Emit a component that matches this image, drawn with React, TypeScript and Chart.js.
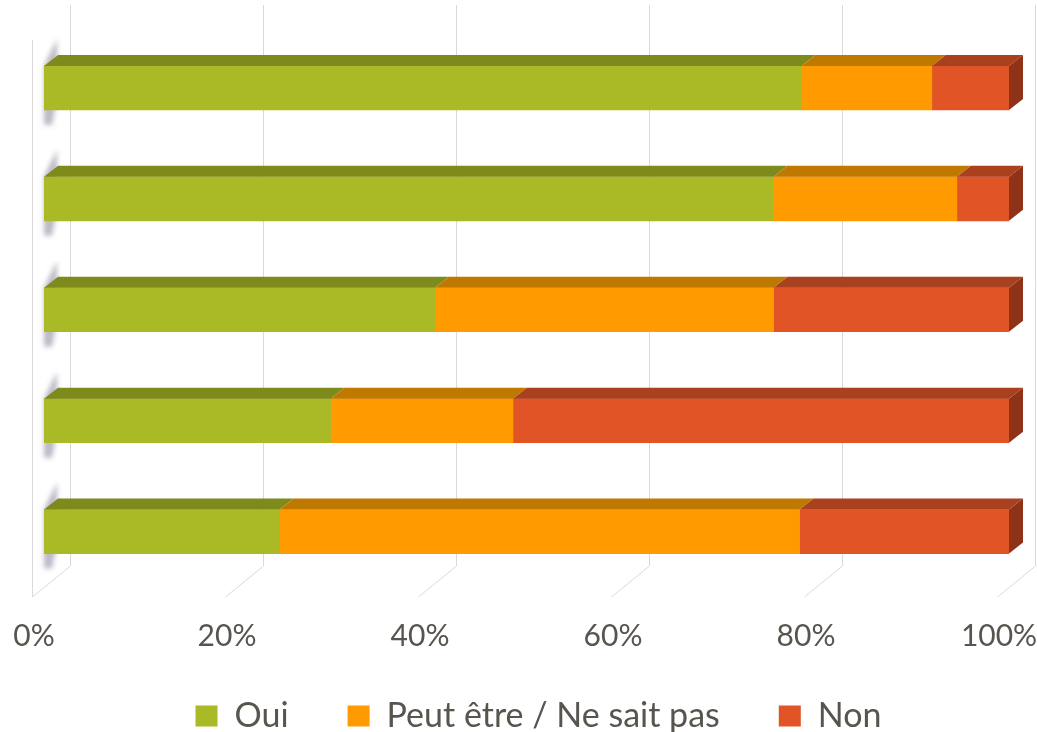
import React, { useEffect, useRef } from "react";
import { Chart, registerables } from "chart.js";

Chart.register(...registerables);

const categories = ["Question 1", "Question 2", "Question 3", "Question 4", "Question 5"];
const seriesNames = ["Oui", "Peut être / Ne sait pas", "Non"];
const oui = [78.5, 75.6, 40.5, 29.7, 24.4];
const peutEtre = [13.5, 19.0, 35.1, 18.9, 53.9];
const non = [8.0, 5.4, 24.4, 51.4, 21.7];
const xTicks = [0, 20, 40, 60, 80, 100];

const FRONT = ["#AAB926", "#FF9A00", "#E05426"];
const TOPC = ["#7F8A1D", "#C07900", "#A9411E"];
const SIDE = "#8F3318";
const DX = 14;
const DY = 11;
const FONT = "Lato";
const TEXT = "#58554F";
const LEGEND_PAD = 59;

const threeD = {
  id: "threeD",
  beforeDatasetsDraw(chart: any) {
    const ctx = chart.ctx;
    const xs = chart.scales.x;
    const { bottom } = chart.chartArea;
    const backY = bottom - 21;
    const frontY = bottom + 10;
    ctx.save();
    ctx.strokeStyle = "#D9D9D9";
    ctx.lineWidth = 1;
    xTicks.forEach((v) => {
      const p = xs.getPixelForValue(v);
      const bx = Math.round(p + 26) + 0.5;
      const fx = Math.round(p - 12) + 0.5;
      ctx.beginPath();
      ctx.moveTo(bx, 5);
      ctx.lineTo(bx, backY);
      ctx.lineTo(fx, frontY);
      ctx.stroke();
    });
    const p0 = Math.round(xs.getPixelForValue(0) - 12) + 0.5;
    ctx.beginPath();
    ctx.moveTo(p0, 40);
    ctx.lineTo(p0, frontY);
    ctx.stroke();
    // soft shadow of the bar ends on the wall
    const meta = chart.getDatasetMeta(0);
    meta.data.forEach((el: any) => {
      const { y, base, height } = el.getProps(["y", "base", "height"], true);
      const t = y - height / 2;
      const b = y + height / 2;
      ctx.save();
      ctx.filter = "blur(2.5px)";
      ctx.fillStyle = "rgba(120,115,140,0.5)";
      ctx.beginPath();
      ctx.moveTo(base, t);
      ctx.lineTo(base + DX - 1, t - DY - 16);
      ctx.lineTo(base + DX - 1, b - DY);
      ctx.lineTo(base + 8, b + 15);
      ctx.lineTo(base, b + 15);
      ctx.closePath();
      ctx.fill();
      ctx.restore();
    });
    ctx.restore();
  },
  afterDatasetsDraw(chart: any) {
    const ctx = chart.ctx;
    ctx.save();
    const n = chart.data.datasets.length;
    for (let i = 0; i < n; i++) {
      const meta = chart.getDatasetMeta(i);
      meta.data.forEach((el: any) => {
        const { x, y, base, height } = el.getProps(["x", "y", "base", "height"], true);
        const t = y - height / 2;
        ctx.fillStyle = TOPC[i];
        ctx.beginPath();
        ctx.moveTo(base, t);
        ctx.lineTo(x, t);
        ctx.lineTo(x + DX, t - DY);
        ctx.lineTo(base + DX, t - DY);
        ctx.closePath();
        ctx.fill();
      });
    }
    const last = chart.getDatasetMeta(n - 1);
    last.data.forEach((el: any) => {
      const { x, y, height } = el.getProps(["x", "y", "height"], true);
      const t = y - height / 2;
      const b = y + height / 2;
      ctx.fillStyle = SIDE;
      ctx.beginPath();
      ctx.moveTo(x, t);
      ctx.lineTo(x + DX, t - DY);
      ctx.lineTo(x + DX, b - DY);
      ctx.lineTo(x, b);
      ctx.closePath();
      ctx.fill();
    });
    ctx.restore();
  },
};

export default function App() {
  const ref = useRef<HTMLCanvasElement | null>(null);
  useEffect(() => {
    if (!ref.current) return;
    const values = [oui, peutEtre, non];
    const chart = new Chart(ref.current, {
      type: "bar",
      data: {
        labels: categories,
        datasets: seriesNames.map((name, i) => ({
          label: name,
          data: values[i],
          backgroundColor: FRONT[i],
          borderWidth: 0,
          barThickness: 44,
        })),
      },
      options: {
        indexAxis: "y",
        responsive: false,
        animation: false,
        layout: { padding: { left: 44, right: 4, top: 32.5, bottom: 0 } },
        scales: {
          x: {
            stacked: true,
            min: 0,
            max: 100,
            grid: { display: false, drawTicks: false },
            border: { display: false },
            ticks: {
              stepSize: 20,
              padding: -51,
              mirror: true,
              labelOffset: -10,
              color: TEXT,
              font: { family: FONT, size: 30, lineHeight: 4 / 30 },
              callback: (v: any) => v + "%",
            },
            afterFit: (s: any) => {
              s.paddingLeft = 0;
              s.paddingRight = 28;
              s.height = 53;
            },
          },
          y: { stacked: true, display: false },
        },
        plugins: {
          legend: {
            position: "bottom",
            labels: {
              boxWidth: 22,
              boxHeight: 21,
              padding: LEGEND_PAD,
              color: TEXT,
              font: { family: FONT, size: 34 },
            },
          },
          tooltip: { enabled: false },
        },
      },
      plugins: [threeD],
    } as any);
    return () => chart.destroy();
  }, []);
  return (
    <div style={{ position: "fixed", left: 0, top: 0, width: 1037, height: 732, overflow: "hidden", background: "#fff" }}>
      <canvas ref={ref} width={1037} height={743} style={{ display: "block" }} />
    </div>
  );
}
